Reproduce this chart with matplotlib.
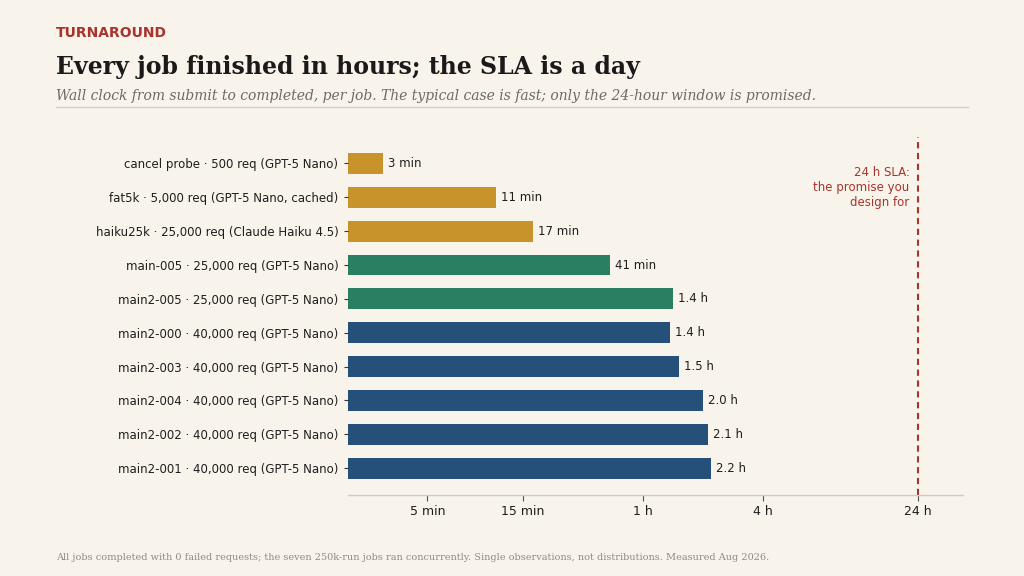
import numpy as np
import matplotlib.pyplot as plt

# job labels, top to bottom
jobs = [
    "cancel probe · 500 req (GPT-5 Nano)",
    "fat5k · 5,000 req (GPT-5 Nano, cached)",
    "haiku25k · 25,000 req (Claude Haiku 4.5)",
    "main-005 · 25,000 req (GPT-5 Nano)",
    "main2-005 · 25,000 req (GPT-5 Nano)",
    "main2-000 · 40,000 req (GPT-5 Nano)",
    "main2-003 · 40,000 req (GPT-5 Nano)",
    "main2-004 · 40,000 req (GPT-5 Nano)",
    "main2-002 · 40,000 req (GPT-5 Nano)",
    "main2-001 · 40,000 req (GPT-5 Nano)",
]
minutes = [3, 11, 17, 41, 85, 82, 91, 120, 128, 132]
value_labels = ["3 min", "11 min", "17 min", "41 min", "1.4 h", "1.4 h",
                "1.5 h", "2.0 h", "2.1 h", "2.2 h"]
groups = ["small", "small", "small", "mid", "mid",
          "big", "big", "big", "big", "big"]
group_colors = {"small": "#C8932B", "mid": "#2A7F62", "big": "#24507A"}

tick_vals = [5, 15, 60, 240, 1440]
tick_labels = ["5 min", "15 min", "1 h", "4 h", "24 h"]
sla_minutes = 1440

bg = "#F8F4EC"
red = "#A8342B"
ink = "#1E1E1E"

fig = plt.figure(figsize=(10.24, 5.76), dpi=100, facecolor=bg)
ax = fig.add_axes([0.340, 0.141, 0.600, 0.621], facecolor=bg)

xmin = 2.0
y = np.arange(len(jobs))
ax.barh(y, np.array(minutes) - xmin, left=xmin, height=0.62,
        color=[group_colors[g] for g in groups])
ax.set_xscale("log")
ax.set_xlim(xmin, 2420)
ax.set_ylim(len(jobs) - 0.21, -0.78)

for yi, m, lab in zip(y, minutes, value_labels):
    ax.text(m * 1.06, yi, lab, va="center", ha="left", fontsize=8.5, color=ink)

ax.axvline(sla_minutes, color=red, lw=1.5, ls=(0, (3, 2.2)))
ax.text(sla_minutes * 0.91, 0.7, "24 h SLA:\nthe promise you\ndesign for",
        ha="right", va="center", fontsize=8.5, color=red, linespacing=1.2)

ax.set_xticks(tick_vals)
ax.set_xticklabels(tick_labels, fontsize=9, color=ink)
ax.xaxis.set_minor_locator(plt.NullLocator())
ax.set_yticks(y)
ax.set_yticklabels(jobs, fontsize=8.5, color=ink)
ax.tick_params(axis="x", length=4, width=0.8, color="#555555", pad=3)
ax.tick_params(axis="y", length=3, width=0.8, color="#333333", pad=4)
for s in ["top", "right", "left"]:
    ax.spines[s].set_visible(False)
ax.spines["bottom"].set_color("#CFCBC4")
ax.spines["bottom"].set_linewidth(1)

fig.text(0.055, 0.943, "TURNAROUND", fontsize=10, fontweight="bold",
         color=red, va="center", ha="left")
fig.text(0.055, 0.884, "Every job finished in hours; the SLA is a day",
         fontsize=17, fontweight="bold", family="DejaVu Serif",
         color="#1A1A1A", va="center", ha="left")
fig.text(0.055, 0.834, "Wall clock from submit to completed, per job. The typical case is fast; "
         "only the 24-hour window is promised.",
         fontsize=10, style="italic", family="DejaVu Serif",
         color="#6E6A66", va="center", ha="left")
fig.add_artist(plt.Line2D([0.055, 0.945], [0.814, 0.814], color="#D4D0CA",
                          lw=1, transform=fig.transFigure))
fig.text(0.055, 0.032, "All jobs completed with 0 failed requests; the seven 250k-run jobs ran "
         "concurrently. Single observations, not distributions. Measured Aug 2026.",
         fontsize=7, family="DejaVu Serif", color="#8E8A86", va="center", ha="left")

fig.savefig("out.png", dpi=100, facecolor=bg)
